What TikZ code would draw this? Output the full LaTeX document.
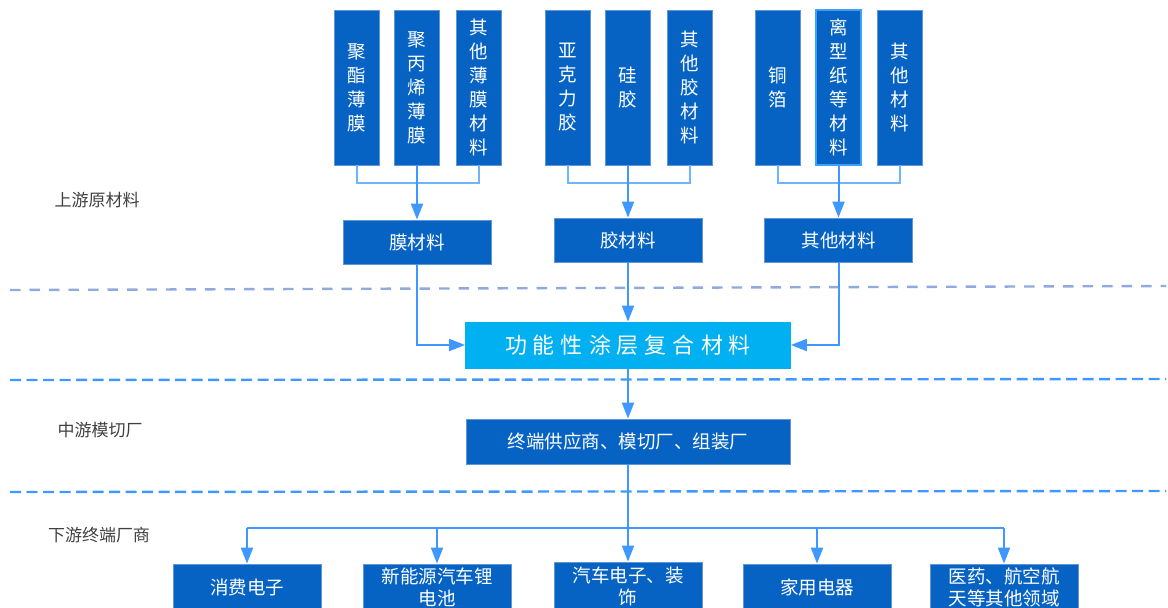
\documentclass[tikz,border=0pt]{standalone}
\usepackage{fontspec}
\usetikzlibrary{arrows.meta,positioning}
\newfontfamily\cjk{Noto Sans CJK SC}
\definecolor{boxblue}{RGB}{6,99,196}
\definecolor{boxline}{RGB}{96,150,215}
\definecolor{hiline}{RGB}{60,160,255}
\definecolor{cyanbox}{RGB}{0,176,240}
\definecolor{lineblue}{RGB}{62,152,255}
\definecolor{lightline}{RGB}{110,180,255}
\definecolor{dashgray}{RGB}{143,170,220}
\definecolor{labelgray}{RGB}{64,64,64}
\tikzset{
  box/.style={draw=boxline, fill=boxblue, text=white, line width=0.8pt, inner sep=0pt,
    font=\cjk\fontsize{18.5}{24}\selectfont, align=center},
  topbox/.style={box, minimum width=45pt, minimum height=155pt},
  midbox/.style={box, minimum width=148pt, minimum height=44pt},
  botbox/.style={box, minimum width=148pt, minimum height=46pt, font=\cjk\fontsize{18.5}{22}\selectfont},
  lab/.style={text=labelgray, font=\cjk\fontsize{17}{20}\selectfont, inner sep=0pt},
  conn/.style={draw=lightline, line width=2pt},
  line/.style={draw=lineblue, line width=2pt},
  arr/.style={line, -{Triangle[width=12pt,length=16pt]}, color=lineblue},
  tarr/.style={conn, -{Triangle[width=12pt,length=16pt]}, color=lineblue},
  dashone/.style={draw=dashgray, line width=2.4pt, dash pattern=on 10.5pt off 9pt},
  dashtwo/.style={draw=lineblue, line width=2.4pt, dash pattern=on 11pt off 5.5pt},
}
\newcommand{\spc}{\hspace{6pt}}
\begin{document}
\begin{tikzpicture}[x=1pt,y=-1pt]
\useasboundingbox (0,0) rectangle (1168,608);

% left labels
\node[lab] (l1) at (97,200) {上游原材料};
\node[lab] (l2) at (100,430) {中游模切厂};
\node[lab] (l3) at (99,535) {下游终端厂商};

% dashed separators
\coordinate (d1a) at (10,290); \coordinate (d1b) at (1166,286);
\coordinate (d2a) at (10,380); \coordinate (d2b) at (1166,379);
\coordinate (d3a) at (10,492); \coordinate (d3b) at (1166,491);
\draw[dashone] (d1a) -- (d1b);
\draw[dashtwo] (d2a) -- (d2b);
\draw[dashtwo] (d3a) -- (d3b);

% top raw materials
\node[topbox] (t1) at (356.5,87.5) {聚\\酯\\薄\\膜};
\node[topbox] (t2) at (417,87.5) {聚\\丙\\烯\\薄\\膜};
\node[topbox] (t3) at (479,87.5) {其\\他\\薄\\膜\\材\\料};
\node[topbox] (t4) at (567.5,87.5) {亚\\克\\力\\胶};
\node[topbox] (t5) at (628,87.5) {硅\\胶};
\node[topbox] (t6) at (689.5,87.5) {其\\他\\胶\\材\\料};
\node[topbox] (t7) at (777.5,87.5) {铜\\箔};
\node[topbox, draw=hiline, line width=2pt] (t8) at (838.5,87.5) {离\\型\\纸\\等\\材\\料};
\node[topbox] (t9) at (899.5,87.5) {其\\他\\材\\料};

% middle category boxes
\node[midbox] (m1) at (417,242) {膜材料};
\node[midbox] (m2) at (628,240) {胶材料};
\node[midbox] (m3) at (838.5,240) {其他材料};

% group connectors
\coordinate (h1) at (0,183);
\draw[conn] (t1.south) |- (h1 -| t3.south) -- (t3.south);
\draw[tarr] (t2.south) -- (m1.north);
\draw[conn] (t4.south) |- (h1 -| t6.south) -- (t6.south);
\draw[tarr] (t5.south) -- (m2.north);
\draw[conn] (t7.south) |- (h1 -| t9.south) -- (t9.south);
\draw[tarr] (t8.south) -- (m3.north);

% composite material
\node[box, draw=cyanbox, fill=cyanbox, minimum width=325pt, minimum height=46pt,
  font=\cjk\fontsize{22}{22}\selectfont] (c) at (628,345)
  {功\spc 能\spc 性\spc 涂\spc 层\spc 复\spc 合\spc 材\spc 料};

\draw[arr] (m1.south) |- (c.west);
\draw[arr] (m2.south) -- (c.north);
\draw[arr] (m3.south) |- (c.east);

% midstream
\node[box, minimum width=324pt, minimum height=45pt] (s) at (628,441.5) {终端供应商、模切厂、组装厂};
\draw[arr] (c.south) -- (s.north);

% downstream
\node[botbox] (b1) at (247,587) {消费电子};
\node[botbox] (b2) at (437,587) {新能源汽车锂\\电池};
\node[botbox, minimum height=48pt] (b3) at (628,586) {汽车电子、装\\饰};
\node[botbox] (b4) at (817,587) {家用电器};
\node[botbox] (b5) at (1004,587) {医药、航空航\\天等其他领域};

\coordinate (h2) at (0,528);
\draw[line] (b1.north |- h2) -- (b5.north |- h2);
\draw[arr] (s.south) -- (b3.north);
\draw[arr] (b1.north |- h2) -- (b1.north);
\draw[arr] (b2.north |- h2) -- (b2.north);
\draw[arr] (b4.north |- h2) -- (b4.north);
\draw[arr] (b5.north |- h2) -- (b5.north);
\end{tikzpicture}
\end{document}
